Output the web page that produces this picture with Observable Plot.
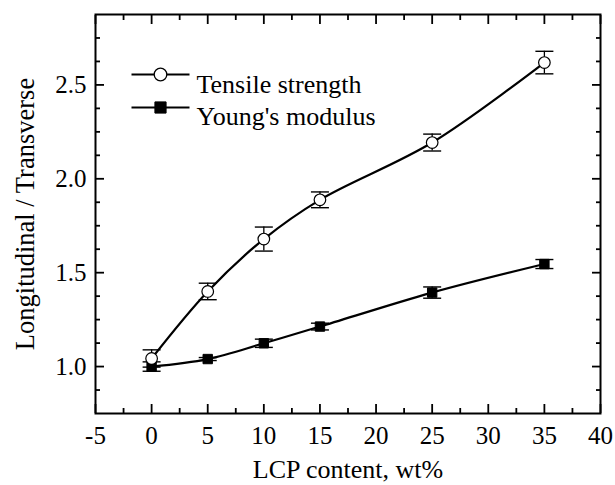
<!DOCTYPE html>
<html><head><meta charset="utf-8">
<script src="https://cdn.jsdelivr.net/npm/d3@7"></script>
<script src="https://cdn.jsdelivr.net/npm/@observablehq/plot@0.6"></script>
<style>html,body{margin:0;padding:0;background:#fff}</style>
</head><body><div id="chart"></div>
<script>
const lcpContent = [0, 5, 10, 15, 25, 35];
const tensileStrength = [1.043, 1.40, 1.679, 1.888, 2.193, 2.619];
const tensileErr = [0.046, 0.044, 0.064, 0.042, 0.045, 0.060];
const youngsModulus = [1.0, 1.04, 1.124, 1.213, 1.394, 1.546];
const youngsErr = [0.025, 0.008, 0.022, 0.018, 0.030, 0.024];
const seriesNames = ["Tensile strength", "Young's modulus"];
const xMajor = [-5, 0, 5, 10, 15, 20, 25, 30, 35, 40];
const xMinor = [-2.5, 2.5, 7.5, 12.5, 17.5, 22.5, 27.5, 32.5, 37.5];
const yMajor = [1.0, 1.5, 2.0, 2.5];
const yMinor = [0.875, 1.125, 1.25, 1.375, 1.625, 1.75, 1.875, 2.125, 2.25, 2.375, 2.625, 2.75];

const rows = [];
lcpContent.forEach((x, i) => {
  rows.push({series: seriesNames[0], x, y: tensileStrength[i], e: tensileErr[i]});
  rows.push({series: seriesNames[1], x, y: youngsModulus[i], e: youngsErr[i]});
});
const tRows = rows.filter(d => d.series === seriesNames[0]);
const yRows = rows.filter(d => d.series === seriesNames[1]);

// horizontal line symbol (half-width = r)
const hline = {draw(ctx, size) { const w = Math.sqrt(size / Math.PI); ctx.moveTo(-w, 0); ctx.lineTo(w, 0); }};

const font = "Liberation Serif, Times New Roman, Times, serif";
const blank = () => "";

const chart = Plot.plot({
  width: 615, height: 485,
  marginLeft: 95, marginRight: 15, marginTop: 14, marginBottom: 72,
  style: {fontFamily: font, fontSize: "25px", background: "white", color: "black", overflow: "visible"},
  x: {domain: [-5, 40]},
  y: {domain: [0.75, 2.875]},
  marks: [
    // minor ticks
    Plot.axisX({anchor: "bottom", ticks: xMinor, tickSize: -5, tickFormat: blank, strokeWidth: 1.8, label: null}),
    Plot.axisX({anchor: "top", ticks: xMinor, tickSize: -5, tickFormat: blank, strokeWidth: 1.8, label: null}),
    Plot.axisY({anchor: "left", ticks: yMinor, tickSize: -5, tickFormat: blank, strokeWidth: 1.8, label: null}),
    Plot.axisY({anchor: "right", ticks: yMinor, tickSize: -5, tickFormat: blank, strokeWidth: 1.8, label: null}),
    // major ticks
    Plot.axisX({anchor: "bottom", ticks: xMajor, tickSize: -9, tickFormat: blank, strokeWidth: 1.8, label: null}),
    Plot.axisX({anchor: "top", ticks: xMajor, tickSize: -9, tickFormat: blank, strokeWidth: 1.8, label: null}),
    Plot.axisY({anchor: "left", ticks: yMajor, tickSize: -9, tickFormat: blank, strokeWidth: 1.8, label: null}),
    Plot.axisY({anchor: "right", ticks: yMajor, tickSize: -9, tickFormat: blank, strokeWidth: 1.8, label: null}),
    // tick labels
    Plot.axisX({anchor: "bottom", ticks: xMajor, tickSize: 0, tickPadding: 13, tickFormat: d => String(d), label: null, fontSize: 25, fontFamily: font}),
    Plot.axisY({anchor: "left", ticks: yMajor, tickSize: 0, tickPadding: 9, tickFormat: d => d.toFixed(1), label: null, fontSize: 25, fontFamily: font}),
    Plot.frame({stroke: "black", strokeWidth: 2}),
    // axis titles
    Plot.text(["LCP content, wt%"], {text: d => d, frameAnchor: "bottom", textAnchor: "middle", lineAnchor: "top", dy: 46, fontSize: 26, fontFamily: font}),
    Plot.text(["Longitudinal / Transverse"], {text: d => d, frameAnchor: "left", textAnchor: "middle", rotate: -90, dx: -69.5, fontSize: 26.5, fontFamily: font}),
    // curves
    Plot.line(rows, {x: "x", y: "y", z: "series", curve: "catmull-rom", stroke: "black", strokeWidth: 2.2}),
    // error bars
    Plot.ruleX(rows, {x: "x", y1: d => d.y - d.e, y2: d => d.y + d.e, stroke: "black", strokeWidth: 1.3}),
    Plot.dot(rows, {x: "x", y: d => d.y + d.e, symbol: hline, r: 9, stroke: "black", strokeWidth: 1.4, fill: "none"}),
    Plot.dot(rows, {x: "x", y: d => d.y - d.e, symbol: hline, r: 9, stroke: "black", strokeWidth: 1.4, fill: "none"}),
    // markers
    Plot.dot(yRows, {x: "x", y: "y", symbol: "square", r: 5.3, fill: "black", stroke: "black", strokeWidth: 1}),
    Plot.dot(tRows, {x: "x", y: "y", symbol: "circle", r: 5.8, fill: "white", stroke: "black", strokeWidth: 1.2}),
    // legend
    Plot.dot([seriesNames[0]], {frameAnchor: "top-left", dx: 65, dy: 60, symbol: hline, r: 29, stroke: "black", strokeWidth: 2}),
    Plot.dot([seriesNames[0]], {frameAnchor: "top-left", dx: 65, dy: 60, symbol: "circle", r: 6.3, fill: "white", stroke: "black", strokeWidth: 1.3}),
    Plot.text([seriesNames[0]], {text: d => d, frameAnchor: "top-left", dx: 101, dy: 60, textAnchor: "start", fontSize: 26, fontFamily: font}),
    Plot.dot([seriesNames[1]], {frameAnchor: "top-left", dx: 65, dy: 93, symbol: hline, r: 29, stroke: "black", strokeWidth: 2}),
    Plot.dot([seriesNames[1]], {frameAnchor: "top-left", dx: 65, dy: 93, symbol: "square", r: 6.3, fill: "black", stroke: "black", strokeWidth: 1}),
    Plot.text([seriesNames[1]], {text: d => d, frameAnchor: "top-left", dx: 101, dy: 92, textAnchor: "start", fontSize: 26, fontFamily: font})
  ]
});
document.getElementById("chart").appendChild(chart);
</script>
</body></html>
